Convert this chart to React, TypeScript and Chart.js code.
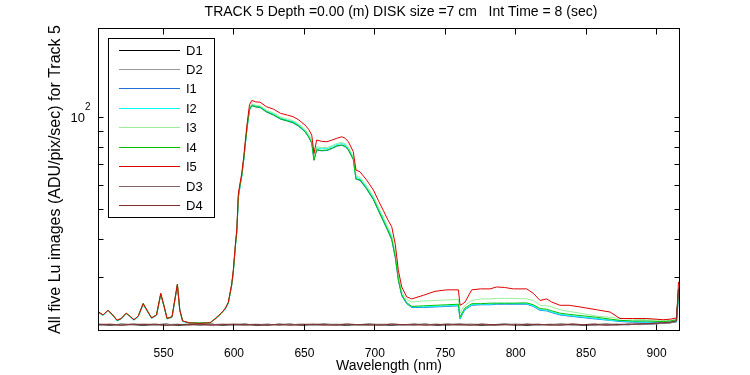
import React, { useEffect, useRef } from 'react';
import { Chart, registerables } from 'chart.js';

Chart.register(...registerables);

const FONT = '"Liberation Sans", Arial, Helvetica, sans-serif';

const chartTitle = 'TRACK 5 Depth =0.00 (m) DISK size =7 cm   Int Time = 8 (sec)';
const xTitle = 'Wavelength (nm)';
const yTitle = 'All five Lu images (ADU/pix/sec) for Track 5';

const xTicks = [550, 600, 650, 700, 750, 800, 850, 900];
const yTicks = [30, 40, 50, 60, 70, 80, 90, 100];

const seriesNames = ['D1', 'D2', 'I1', 'I2', 'I3', 'I4', 'I5', 'D3', 'D4'];
const seriesColors = ['#000000', '#999999', '#1f70d8', '#00ffff', '#99ee99', '#00c000', '#e00000', '#806060', '#803030'];

// Wavelengths of the five image spectra (nm)
const wavelengths = [
  504, 507, 510.5, 514, 517, 520, 523.5, 526.5, 529, 532,
  535.5, 538.5, 541.5, 545, 548, 550.5, 552.5, 556, 559.8, 561.5,
  563.5, 568, 575, 583, 587, 591, 594, 596, 598.4, 599.5,
  601, 602, 603.1, 604.3, 605.5, 607, 608.5, 609.5, 611, 612.6,
  615.5, 618.5, 623, 628, 633, 638, 642, 646, 650.4, 653,
  655.2, 656.8, 658.7, 662, 666, 670, 673, 676.5, 679, 681.2,
  684.7, 686.6, 689.5, 694.2, 699, 702.5, 706, 709, 712, 714.5,
  716.7, 719.1, 722.6, 726.2, 734.4, 742.7, 751, 759.3, 760.5, 762.5,
  764, 768.8, 775, 781.8, 786.5, 792, 798.3, 807.8, 812.5, 817.3,
  822, 825.6, 831.5, 838, 845.7, 857.5, 867, 874.1, 883, 893,
  904.8, 910, 914.3, 915.6,
];

const I5 = [
  23.1, 22.6, 23.4, 22.6, 21.7, 22.0, 22.9, 22.3, 21.8, 22.4,
  24.6, 23.3, 22.1, 22.6, 26.6, 24.0, 22.0, 22.3, 28.5, 23.5,
  21.6, 21.3, 21.2, 21.3, 22.0, 22.9, 23.8, 24.9, 28.6, 31.6,
  38.5, 43.2, 56.5, 61.0, 65.6, 75.0, 88.0, 97.0, 110.0, 113.7,
  112.5, 112.2, 108.5, 106.5, 103.2, 101.8, 100.6, 98.2, 94.5, 91.5,
  87.6, 76.3, 84.4, 83.6, 83.3, 84.5, 85.5, 86.5, 85.5, 83.3,
  77.3, 67.3, 66.4, 62.4, 57.9, 53.5, 49.7, 46.5, 43.9, 38.5,
  31.6, 27.9, 25.9, 25.5, 26.2, 27.0, 27.3, 27.3, 24.3, 24.6,
  24.9, 27.3, 27.5, 27.5, 27.9, 27.8, 27.5, 27.5, 26.6, 25.2,
  25.5, 24.9, 24.3, 24.3, 24.0, 23.5, 23.1, 22.0, 22.0, 22.0,
  21.8, 21.9, 22.1, 29.0,
];

const I4 = [
  23.0, 22.6, 23.4, 22.5, 21.7, 22.0, 22.9, 22.3, 21.8, 22.4,
  24.7, 23.3, 22.1, 22.6, 26.5, 24.0, 22.0, 22.3, 28.4, 23.5,
  21.6, 21.3, 21.3, 21.3, 22.0, 22.9, 23.8, 24.8, 28.4, 31.3,
  38.0, 42.5, 55.0, 60.0, 64.5, 73.5, 86.0, 94.5, 106.0, 109.5,
  108.5, 108.0, 104.5, 102.0, 99.0, 97.5, 96.3, 93.8, 90.0, 86.5,
  82.5, 72.6, 78.5, 78.0, 78.2, 79.5, 80.8, 81.3, 80.5, 78.5,
  73.0, 63.0, 62.5, 58.5, 54.0, 49.8, 46.0, 43.0, 40.0, 35.0,
  29.5, 26.3, 24.8, 24.1, 24.2, 24.3, 24.4, 24.5, 22.2, 23.2,
  23.8, 24.6, 24.6, 24.7, 24.7, 24.7, 24.7, 24.75, 24.4, 23.7,
  23.6, 23.3, 22.9, 22.7, 22.5, 22.2, 21.9, 21.7, 21.6, 21.6,
  21.5, 21.6, 21.8, 27.5,
];

const I3 = [
  23.1, 22.6, 23.3, 22.6, 21.7, 22.0, 22.8, 22.3, 21.8, 22.4,
  24.5, 23.2, 22.1, 22.6, 26.5, 23.9, 22.0, 22.3, 28.4, 23.4,
  21.6, 21.3, 21.2, 21.3, 22.1, 22.8, 23.7, 24.8, 28.4, 31.3,
  38.1, 42.7, 55.5, 60.3, 64.8, 74.0, 86.8, 95.3, 107.2, 110.8,
  109.7, 109.3, 105.7, 103.4, 100.3, 98.8, 97.6, 95.1, 91.4, 88.0,
  84.0, 73.8, 80.3, 79.7, 79.8, 81.0, 82.3, 82.9, 82.0, 80.0,
  74.4, 64.4, 63.8, 59.7, 55.2, 51.0, 47.2, 44.1, 41.2, 36.1,
  30.3, 26.9, 25.4, 24.9, 25.1, 25.2, 25.3, 25.4, 22.9, 23.8,
  24.3, 25.2, 25.5, 25.5, 25.6, 25.6, 25.6, 25.5, 25.2, 24.3,
  24.2, 24.0, 23.5, 23.2, 22.9, 22.4, 22.2, 22.0, 21.9, 21.8,
  21.7, 21.7, 21.8, 27.0,
];

const I2 = [
  23.0, 22.5, 23.3, 22.5, 21.6, 21.9, 22.8, 22.2, 21.7, 22.3,
  24.5, 23.2, 22.0, 22.5, 26.4, 23.9, 21.9, 22.2, 28.3, 23.4,
  21.5, 21.3, 21.2, 21.3, 22.0, 22.8, 23.7, 24.7, 28.3, 31.2,
  37.9, 42.4, 55.0, 59.8, 64.3, 73.3, 85.8, 94.3, 106.5, 110.0,
  109.0, 108.6, 105.0, 102.7, 99.6, 98.1, 96.9, 94.4, 90.7, 87.3,
  83.3, 73.2, 79.5, 79.0, 79.1, 80.3, 81.6, 82.2, 81.3, 79.3,
  73.7, 63.7, 63.1, 59.0, 54.6, 50.4, 46.6, 43.5, 40.6, 35.5,
  29.8, 26.4, 24.7, 24.0, 24.0, 24.1, 24.2, 24.3, 22.0, 23.0,
  23.6, 24.4, 24.5, 24.5, 24.6, 24.6, 24.6, 24.6, 24.2, 23.5,
  23.4, 23.1, 22.7, 22.5, 22.3, 22.0, 21.7, 21.6, 21.5, 21.4,
  21.4, 21.4, 21.6, 26.5,
];

const I1 = [
  23.0, 22.6, 23.4, 22.5, 21.7, 22.0, 22.9, 22.2, 21.8, 22.4,
  24.4, 23.2, 22.1, 22.6, 26.4, 23.9, 22.0, 22.2, 28.3, 23.4,
  21.6, 21.3, 21.2, 21.3, 22.1, 22.9, 23.8, 24.8, 28.3, 31.2,
  37.9, 42.3, 54.8, 59.6, 64.2, 73.2, 85.6, 94.0, 105.8, 109.3,
  108.2, 107.8, 104.2, 101.8, 98.8, 97.3, 96.0, 93.5, 89.8, 86.3,
  82.3, 72.4, 78.3, 77.8, 78.0, 79.3, 80.6, 81.1, 80.3, 78.3,
  72.8, 62.8, 62.3, 58.3, 53.8, 49.6, 45.8, 42.8, 39.8, 34.8,
  29.3, 26.1, 24.6, 23.9, 23.9, 24.0, 24.1, 24.2, 21.9, 22.9,
  23.5, 24.3, 24.4, 24.4, 24.5, 24.5, 24.5, 24.5, 24.1, 23.4,
  23.3, 23.0, 22.6, 22.4, 22.2, 21.9, 21.7, 21.5, 21.4, 21.4,
  21.3, 21.4, 21.5, 26.0,
];

// Wavelengths of the four dark spectra (nm)
const darkWavelengths = [
  504, 512, 520, 528, 536, 544, 552, 560, 568, 576,
  584, 592, 600, 608, 616, 624, 632, 640, 648, 656,
  664, 672, 680, 688, 696, 704, 712, 720, 728, 736,
  744, 752, 760, 768, 776, 784, 792, 800, 808, 816,
  824, 832, 840, 848, 856, 864, 872, 880, 888, 896,
  904, 910, 914, 915.6,
];

const D1 = [
  21.0, 20.9, 21.1, 21.0, 20.9, 21.0, 21.1, 20.9, 21.0, 21.0,
  21.1, 20.9, 21.0, 21.1, 20.9, 21.0, 21.0, 21.1, 20.9, 21.0,
  21.1, 21.0, 20.9, 21.0, 21.1, 21.0, 20.9, 21.0, 21.0, 21.1,
  20.9, 21.0, 21.1, 21.0, 20.9, 21.0, 21.1, 21.0, 20.9, 21.0,
  21.0, 21.1, 21.0, 20.9, 21.0, 21.1, 21.0, 21.0, 21.1, 21.1,
  21.2, 21.3, 21.5, 26.5,
];

const D2 = [
  20.9, 21.0, 21.0, 21.1, 21.0, 20.9, 21.0, 21.1, 20.9, 21.1,
  21.0, 21.0, 20.9, 21.0, 21.1, 20.9, 21.1, 21.0, 21.0, 20.9,
  21.0, 21.1, 21.0, 20.9, 21.0, 21.1, 21.0, 20.9, 21.1, 21.0,
  21.0, 21.1, 20.9, 21.0, 21.1, 20.9, 21.0, 21.0, 21.1, 20.9,
  21.1, 21.0, 20.9, 21.0, 21.1, 21.0, 20.9, 21.1, 21.0, 21.1,
  21.2, 21.3, 21.4, 26.8,
];

const D3 = [
  21.1, 21.0, 20.9, 21.0, 21.1, 21.0, 20.9, 21.0, 21.1, 20.9,
  21.0, 21.1, 21.0, 20.9, 21.0, 21.1, 20.9, 21.0, 21.1, 21.0,
  20.9, 21.0, 21.1, 21.0, 20.9, 21.0, 21.1, 21.0, 20.9, 21.0,
  21.1, 20.9, 21.0, 21.1, 21.0, 20.9, 21.0, 21.1, 21.0, 21.1,
  20.9, 21.0, 21.1, 21.0, 20.9, 21.0, 21.1, 21.0, 21.1, 21.2,
  21.3, 21.4, 21.6, 27.2,
];

const D4 = [
  21.0, 21.1, 20.9, 21.1, 21.0, 21.1, 20.9, 21.0, 21.0, 21.1,
  20.9, 21.0, 21.1, 21.0, 21.0, 20.9, 21.1, 20.9, 21.0, 21.1,
  21.0, 20.9, 21.1, 21.0, 21.0, 20.9, 21.1, 21.0, 21.1, 20.9,
  21.0, 21.1, 21.0, 20.9, 21.1, 21.0, 21.0, 20.9, 21.1, 21.0,
  21.0, 20.9, 21.1, 21.0, 21.1, 20.9, 21.0, 21.1, 21.1, 21.2,
  21.3, 21.4, 21.6, 27.5,
];

const X_MIN = 503.8;
const X_MAX = 916.3;
const Y_MIN = 20.1;
const Y_MAX = 195.5;

function toPoints(xs: number[], ys: number[]) {
  return xs.map((x, i) => ({ x, y: ys[i] }));
}

const decorPlugin = {
  id: 'decor',
  afterDatasetsDraw(chart: any) {
    const { ctx, chartArea: a, scales } = chart;
    ctx.save();
    // frame
    ctx.strokeStyle = '#000';
    ctx.lineWidth = 1;
    ctx.strokeRect(a.left, a.top, a.right - a.left, a.bottom - a.top);
    // inward ticks
    ctx.beginPath();
    for (const v of xTicks) {
      const px = Math.floor(scales.x.getPixelForValue(v)) + 0.5;
      ctx.moveTo(px, a.bottom);
      ctx.lineTo(px, a.bottom - 6);
      ctx.moveTo(px, a.top);
      ctx.lineTo(px, a.top + 6);
    }
    for (const v of yTicks) {
      const py = Math.floor(scales.y.getPixelForValue(v)) + 0.5;
      ctx.moveTo(a.left, py);
      ctx.lineTo(a.left + 5, py);
      ctx.moveTo(a.right, py);
      ctx.lineTo(a.right - 5, py);
    }
    ctx.stroke();

    // 10^2 tick label
    const y100 = scales.y.getPixelForValue(100);
    ctx.fillStyle = '#000';
    ctx.textBaseline = 'middle';
    ctx.textAlign = 'right';
    ctx.font = '13px ' + FONT;
    ctx.fillText('10', 85, y100 + 1);
    ctx.textAlign = 'left';
    ctx.font = '10px ' + FONT;
    ctx.fillText('2', 85, y100 - 10);

    // title
    ctx.font = '14px ' + FONT;
    ctx.textAlign = 'center';
    ctx.fillText(chartTitle, 401, 12.5);

    // legend
    const lx = 108.5, ly = 38.5, lw = 106, lh = 179;
    ctx.fillStyle = '#fff';
    ctx.fillRect(lx, ly, lw, lh);
    ctx.strokeStyle = '#000';
    ctx.strokeRect(lx, ly, lw, lh);
    ctx.font = '13px ' + FONT;
    ctx.textAlign = 'left';
    seriesNames.forEach((name, i) => {
      const y = Math.floor(50 + i * 19.45) + 0.5;
      ctx.strokeStyle = seriesColors[i];
      ctx.beginPath();
      ctx.moveTo(119, y);
      ctx.lineTo(180, y);
      ctx.stroke();
      ctx.fillStyle = '#000';
      ctx.fillText(name, 186, y + 0.5);
    });
    ctx.restore();
  },
};

export default function App() {
  const canvasRef = useRef<HTMLCanvasElement | null>(null);

  useEffect(() => {
    if (!canvasRef.current) return;
    const seriesData = [
      toPoints(darkWavelengths, D1),
      toPoints(darkWavelengths, D2),
      toPoints(wavelengths, I1),
      toPoints(wavelengths, I2),
      toPoints(wavelengths, I3),
      toPoints(wavelengths, I4),
      toPoints(wavelengths, I5),
      toPoints(darkWavelengths, D3),
      toPoints(darkWavelengths, D4),
    ];
    const chart = new Chart(canvasRef.current, {
      type: 'line',
      data: {
        datasets: seriesNames.map((name, i) => ({
          label: name,
          data: seriesData[i],
          borderColor: seriesColors[i],
          backgroundColor: seriesColors[i],
          borderWidth: 1,
          pointRadius: 0,
          tension: 0,
          fill: false,
          order: seriesNames.length - i,
        })),
      },
      options: {
        responsive: false,
        animation: false,
        events: [],
        layout: { padding: { top: 28.5, right: 70.5, left: 0, bottom: 0 } },
        plugins: {
          legend: { display: false },
          tooltip: { enabled: false },
          title: { display: false },
        },
        scales: {
          x: {
            type: 'linear',
            min: X_MIN,
            max: X_MAX,
            grid: { display: false },
            border: { display: false },
            afterBuildTicks: (scale: any) => {
              scale.ticks = xTicks.map((v) => ({ value: v }));
            },
            afterFit: (scale: any) => {
              scale.height = 44.5;
            },
            ticks: {
              autoSkip: false,
              maxRotation: 0,
              padding: 8,
              color: '#000',
              font: { family: FONT, size: 12 },
              callback: (v: any) => String(v),
            },
            title: {
              display: true,
              text: xTitle,
              color: '#000',
              font: { family: FONT, size: 14 },
              padding: { top: 0, bottom: 0.6 },
            },
          },
          y: {
            type: 'logarithmic',
            min: Y_MIN,
            max: Y_MAX,
            grid: { display: false },
            border: { display: false },
            afterBuildTicks: (scale: any) => {
              scale.ticks = yTicks.map((v) => ({ value: v }));
            },
            afterFit: (scale: any) => {
              scale.width = 98.5;
            },
            ticks: { display: false },
            title: {
              display: true,
              text: yTitle,
              color: '#000',
              font: { family: FONT, size: 16 },
              padding: { top: 46, bottom: 0 },
            },
          },
        },
      },
      plugins: [decorPlugin],
    });
    return () => chart.destroy();
  }, []);

  return (
    <div style={{ position: 'fixed', left: 0, top: 0, width: 750, height: 375, background: '#fff' }}>
      <canvas ref={canvasRef} width={750} height={375} style={{ display: 'block' }} />
    </div>
  );
}
